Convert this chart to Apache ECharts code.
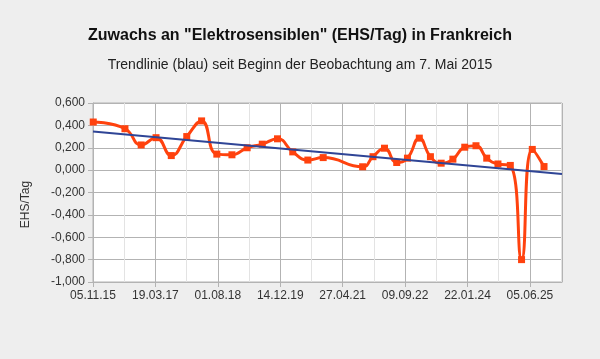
<!DOCTYPE html>
<html>
<head>
<meta charset="utf-8">
<script src="https://cdn.jsdelivr.net/npm/echarts@6/dist/echarts.min.js"></script>
<style>
html,body{margin:0;padding:0;background:#eeeeee;}
#chart{width:600px;height:359px;}
</style>
</head>
<body>
<div id="chart"></div>
<script>
// Observation dates and daily increase (EHS/Tag)
var dates = ['2015-11-07','2016-07-18','2016-11-25','2017-03-24','2017-07-24','2017-11-25',
  '2018-03-24','2018-07-24','2018-11-22','2019-03-24','2019-07-23','2019-11-22',
  '2020-03-23','2020-07-22','2020-11-22','2021-10-04','2021-12-26','2022-03-28',
  '2022-07-04','2022-09-28','2023-01-01','2023-03-31','2023-06-25','2023-09-27',
  '2023-12-31','2024-03-30','2024-06-24','2024-09-22','2024-12-30','2025-03-30',
  '2025-06-24','2025-09-26'];
var values = [0.43,0.37,0.225,0.29,0.13,0.30,
  0.44,0.143,0.137,0.20,0.232,0.28,
  0.163,0.09,0.112,0.03,0.12,0.196,
  0.068,0.107,0.286,0.12,0.062,0.098,
  0.205,0.218,0.107,0.055,0.042,-0.80,
  0.185,0.032];
// Trend line (blue) endpoints
var trendDates = ['2015-11-05','2026-02-17'];
var trendValues = [0.345,-0.035];
// Axis
var axisStartDate = '2015-11-05';
var axisEndDate = '2026-02-17';
var yTicks = [-1.0,-0.8,-0.6,-0.4,-0.2,0.0,0.2,0.4,0.6];

var DAY = 86400000;
function toUTC(s){var p=s.split('-');return Date.UTC(+p[0],+p[1]-1,+p[2]);}
var base = toUTC(axisStartDate);
function dayOf(s){return Math.round((toUTC(s)-base)/DAY);}
function pad(n){return (n<10?'0':'')+n;}
function fmtDate(v){
  var d = new Date(base + v*DAY);
  return pad(d.getUTCDate())+'.'+pad(d.getUTCMonth()+1)+'.'+pad(d.getUTCFullYear()%100);
}
var xMax = dayOf(axisEndDate);

var mainData = dates.map(function(d,i){return [dayOf(d), values[i]];});
var trendData = trendDates.map(function(d,i){return [dayOf(d), trendValues[i]];});

var chart = echarts.init(document.getElementById('chart'), null, {renderer:'canvas'});
chart.setOption({
  animation:false,
  backgroundColor:'#eeeeee',
  title:[
    {text:'Zuwachs an "Elektrosensiblen" (EHS/Tag) in Frankreich', left:'center', top:23,
     textStyle:{fontFamily:'Liberation Sans', fontSize:16, fontWeight:'bold', color:'#111'}},
    {text:'Trendlinie (blau) seit Beginn der Beobachtung am 7. Mai 2015', left:'center', top:53,
     textStyle:{fontFamily:'Liberation Sans', fontSize:14, fontWeight:'normal', color:'#222'}}
  ],
  grid:{left:93, right:38, top:103, bottom:77, show:true, backgroundColor:'#ffffff',
        borderColor:'#b3b3b3', borderWidth:1},
  xAxis:[
    {type:'value', min:0, max:xMax, interval:500,
     axisLine:{show:true, onZero:false, lineStyle:{color:'#b3b3b3'}},
     axisTick:{show:true, length:5, lineStyle:{color:'#b3b3b3'}},
     axisLabel:{formatter:fmtDate, showMaxLabel:false, margin:8, fontFamily:'Liberation Sans', fontSize:12, color:'#333'},
     splitLine:{show:false}},
    {type:'value', min:0, max:xMax, interval:250, position:'bottom',
     axisLine:{show:false}, axisTick:{show:false}, axisLabel:{show:false},
     splitLine:{show:true, lineStyle:{color:['#b3b3b3','#e3e3e3'], width:1}}}
  ],
  yAxis:{type:'value', min:yTicks[0], max:yTicks[yTicks.length-1], interval:0.2,
    name:'EHS/Tag', nameLocation:'middle', nameGap:61,
    nameTextStyle:{fontFamily:'Liberation Sans', fontSize:12, color:'#333', padding:[0,24,0,0]},
    axisLine:{show:true, lineStyle:{color:'#b3b3b3'}},
    axisTick:{show:true, length:5, lineStyle:{color:'#b3b3b3'}},
    axisLabel:{margin:8, fontFamily:'Liberation Sans', fontSize:12, color:'#333',
      formatter:function(v){if(Math.abs(v)<1e-9)v=0;return v.toFixed(3).replace('.',',');}},
    splitLine:{show:true, lineStyle:{color:'#b3b3b3', width:1}}},
  series:[
    {type:'line', name:'EHS/Tag', data:mainData, xAxisIndex:0, smooth:0.5,
     symbol:'rect', symbolSize:7, showSymbol:true,
     itemStyle:{color:'#ff420e'}, lineStyle:{color:'#ff420e', width:3}, z:2},
    {type:'line', name:'Trend', data:trendData, xAxisIndex:0, symbol:'none',
     lineStyle:{color:'#2f4596', width:2}, z:3}
  ]
});
</script>
</body>
</html>
